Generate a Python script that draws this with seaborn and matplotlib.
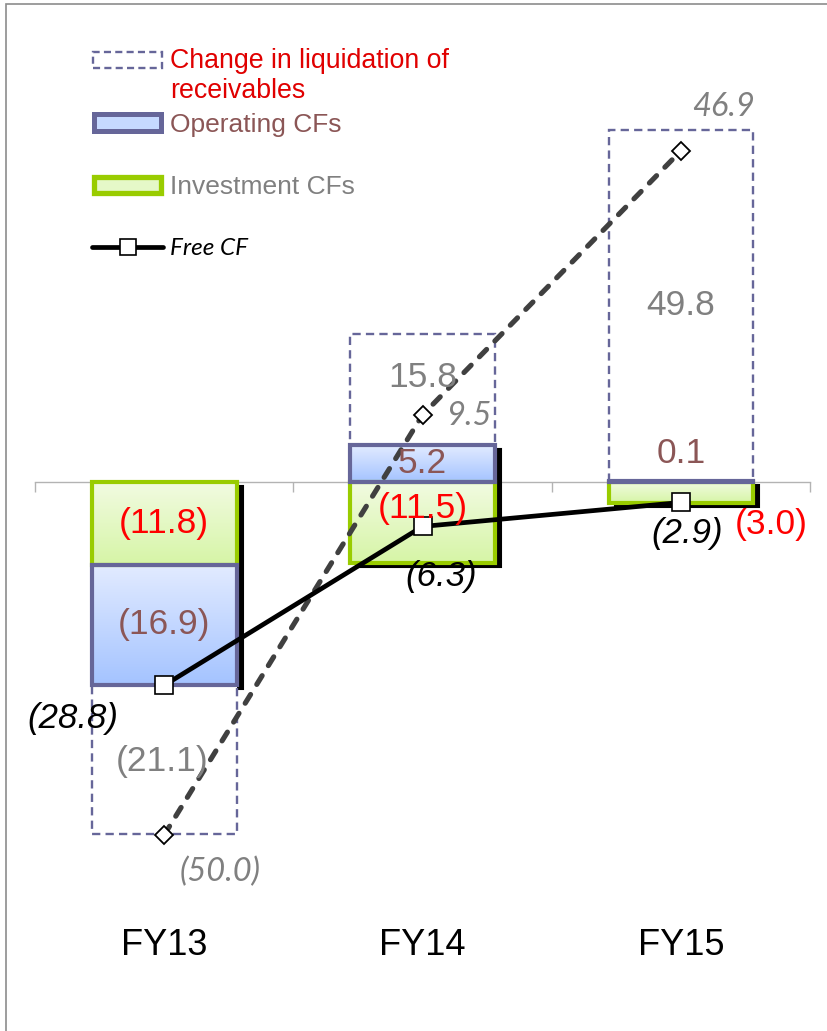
import numpy as np
import matplotlib
matplotlib.use("Agg")
import matplotlib.pyplot as plt
import matplotlib.transforms as mtransforms
from matplotlib.patches import Rectangle
from matplotlib.lines import Line2D
from matplotlib.colors import LinearSegmentedColormap
import seaborn as sns

# ---- data (JPY bn) ----
years = ["FY13", "FY14", "FY15"]
investment_cf = [-11.8, -11.5, -3.0]
operating_cf = [-16.9, 5.2, 0.1]
receivables_change = [-21.1, 15.8, 49.8]
free_cf = [-28.8, -6.3, -2.9]
free_cf_incl_receivables = [-50.0, 9.5, 46.9]

legend_labels = ["Change in liquidation of\nreceivables", "Operating CFs",
                 "Investment CFs", "Free CF"]

# ---- styling ----
W, H, DPI = 827, 1031, 100
C_INV_EDGE = "#99cc00"
C_OP_EDGE = "#666699"
C_RCV_EDGE = "#666699"
C_OP_TXT = "#8b5656"
C_INV_TXT = "#ff0000"
C_RCV_TXT = "#808080"
C_LEG_RED = "#e00000"
OP_GRAD = ("#e2ebff", "#a4c3ff")    # top, bottom
INV_GRAD = ("#f2fbe2", "#d6f5a6")

sns.set_theme(style="white")
plt.rcParams["font.family"] = ["Liberation Sans", "DejaVu Sans"]

fig = plt.figure(figsize=(W / DPI, H / DPI), dpi=DPI, facecolor="white")

# plot area in pixels
px_left, px_right, px_top, px_bottom = 35, 810, 40, 920
ax = fig.add_axes([px_left / W, 1 - px_bottom / H,
                   (px_right - px_left) / W, (px_bottom - px_top) / H])
ax.set_facecolor("white")

pos = np.arange(len(years))
bar_w = 0.56

# stack: investment nearest zero, then operating, then receivables
layers = np.array([investment_cf, operating_cf, receivables_change])
pos_base = np.zeros(len(years))
neg_base = np.zeros(len(years))
bottoms = []
for row in layers:
    bottoms.append(np.where(row >= 0, pos_base, neg_base))
    pos_base = pos_base + np.where(row >= 0, row, 0)
    neg_base = neg_base + np.where(row < 0, row, 0)
    if len(bottoms) == 2:
        shadow_top, shadow_bottom = pos_base.copy(), neg_base.copy()

# drop shadow behind operating + investment columns
shadow_tr = ax.transData + mtransforms.ScaledTranslation(6 / DPI, -4 / DPI, fig.dpi_scale_trans)
ax.bar(pos, shadow_top - shadow_bottom, bar_w, bottom=shadow_bottom,
       color="black", edgecolor="black", linewidth=1.5,
       transform=shadow_tr, zorder=2.5)


def gradient_fill(bars, top_c, bot_c, z):
    cmap = LinearSegmentedColormap.from_list("grad", [bot_c, top_c])
    grad = np.linspace(0, 1, 256).reshape(-1, 1)
    for p in bars.patches:
        x0, y0, w, h = p.get_x(), p.get_y(), p.get_width(), p.get_height()
        lo, hi = min(y0, y0 + h), max(y0, y0 + h)
        ax.imshow(grad, cmap=cmap, origin="lower", extent=(x0, x0 + w, lo, hi),
                  aspect="auto", interpolation="bilinear", zorder=z)


# receivables (white box with dashed outline)
ax.bar(pos, receivables_change, bar_w, bottom=bottoms[2], facecolor="white",
       edgecolor=C_RCV_EDGE, linewidth=1.7, linestyle=(0, (3.5, 2.2)), zorder=2.7)

# investment CFs
inv_bars = ax.bar(pos, investment_cf, bar_w, bottom=bottoms[0], facecolor="none",
                  edgecolor=C_INV_EDGE, linewidth=3.0, zorder=4)
gradient_fill(inv_bars, INV_GRAD[0], INV_GRAD[1], 3)

# operating CFs
op_bars = ax.bar(pos, operating_cf, bar_w, bottom=bottoms[1], facecolor="none",
                 edgecolor=C_OP_EDGE, linewidth=3.0, zorder=4.2)
gradient_fill(op_bars, OP_GRAD[0], OP_GRAD[1], 3.1)

# free CF including change in receivables (dashed) and free CF (solid)
sns.lineplot(x=pos, y=free_cf_incl_receivables, ax=ax, color="#404040", linewidth=3.7,
             linestyle=(0, (2.0, 2.3)), dash_capstyle="round",
             marker="D", markersize=9, markerfacecolor="white",
             markeredgecolor="black", markeredgewidth=1.3, zorder=6)
sns.lineplot(x=pos, y=free_cf, ax=ax, color="black", linewidth=3.4,
             marker="s", markersize=12.5, markerfacecolor="white",
             markeredgecolor="black", markeredgewidth=1.2, zorder=7)


def fmt(v):
    return f"({abs(v):.1f})" if v < 0 else f"{v:.1f}"


# label offsets in pixels (dx, dy; dy positive = up)
inv_off = [(0, 0), (0, 14), (90, -32)]
op_off = [(0, 0), (0, 0), (0, 28)]
rcv_off = [(-2, -2), (0, 12), (0, 0)]
fcf_off = [(-91, -33), (19, -50), (6, -31)]
adj_off = [(56, -37), (46, -1), (43, 44)]

for i in range(len(years)):
    ax.annotate(fmt(investment_cf[i]), (pos[i], bottoms[0][i] + investment_cf[i] / 2),
                xytext=inv_off[i], textcoords="offset pixels", ha="center", va="center",
                fontsize=25.5, color=C_INV_TXT, zorder=9)
    ax.annotate(fmt(operating_cf[i]), (pos[i], bottoms[1][i] + operating_cf[i] / 2),
                xytext=op_off[i], textcoords="offset pixels", ha="center", va="center",
                fontsize=25.5, color=C_OP_TXT, zorder=9)
    ax.annotate(fmt(receivables_change[i]), (pos[i], bottoms[2][i] + receivables_change[i] / 2),
                xytext=rcv_off[i], textcoords="offset pixels", ha="center", va="center",
                fontsize=25.5, color=C_RCV_TXT, zorder=9)
    ax.annotate(fmt(free_cf[i]), (pos[i], free_cf[i]),
                xytext=fcf_off[i], textcoords="offset pixels", ha="center", va="center",
                fontsize=25, fontstyle="italic", color="black", zorder=9)
    ax.annotate(fmt(free_cf_incl_receivables[i]), (pos[i], free_cf_incl_receivables[i]),
                xytext=adj_off[i], textcoords="offset pixels", ha="center", va="center",
                fontsize=23.5, fontstyle="italic", family=["Lato", "DejaVu Sans"],
                color=C_RCV_TXT, zorder=9)

# axis scaling: zero at y=482 px, 7.06 px per unit
zero_px, ppu = 482, 7.06
ymax = (zero_px - px_top) / ppu
ymin = -(px_bottom - zero_px) / ppu
ax.set_xlim(-0.5, len(years) - 0.5)
ax.set_ylim(ymin, ymax)

for s in ax.spines.values():
    s.set_visible(False)
ax.set_yticks([])
ax.set_xticks(pos, years)
ax.tick_params(axis="x", length=0, pad=6, labelsize=26, labelcolor="black")

# category axis line at zero with boundary ticks
zero_frac = (0 - ymin) / (ymax - ymin)
sec = ax.secondary_xaxis(zero_frac)
sec.set_alignment("bottom")
sec.set_xticks(np.arange(len(years) + 1) - 0.5, [""] * (len(years) + 1))
sec.tick_params(axis="x", which="major", bottom=True, top=False, direction="out",
                length=7.5, width=1.0, color="#b3b3b3", labelbottom=False)
sec.spines["bottom"].set_color("#b3b3b3")
sec.spines["bottom"].set_linewidth(1.0)
sec.spines["top"].set_visible(False)

# ---- legend ----
def fx(px):
    return px / W


def fy(py):
    return 1 - py / H


ft = fig.transFigure
fig.add_artist(Rectangle((fx(93), fy(68)), fx(162) - fx(93), fy(52) - fy(68), transform=ft,
                         facecolor="none", edgecolor=C_RCV_EDGE, linewidth=1.7,
                         linestyle=(0, (3.0, 1.8))))
fig.text(fx(170), fy(68), legend_labels[0].split("\n")[0], color=C_LEG_RED, fontsize=19.3,
         ha="left", va="baseline")
fig.text(fx(170), fy(98), legend_labels[0].split("\n")[1], color=C_LEG_RED, fontsize=19.3,
         ha="left", va="baseline")

fig.add_artist(Rectangle((fx(94), fy(131)), fx(161) - fx(94), fy(114) - fy(131), transform=ft,
                         facecolor="#c6d9ff", edgecolor=C_OP_EDGE, linewidth=3.6))
fig.text(fx(170), fy(132), legend_labels[1], color=C_OP_TXT, fontsize=19,
         ha="left", va="baseline")

fig.add_artist(Rectangle((fx(94), fy(193)), fx(161) - fx(94), fy(177) - fy(193), transform=ft,
                         facecolor="#e5f8c8", edgecolor=C_INV_EDGE, linewidth=3.8))
fig.text(fx(170), fy(194), legend_labels[2], color=C_RCV_TXT, fontsize=19,
         ha="left", va="baseline")

fig.add_artist(Line2D([fx(92), fx(163)], [fy(247), fy(247)], transform=ft, color="black",
                      linewidth=3.4))
fig.add_artist(Line2D([fx(128)], [fy(247)], transform=ft, color="black", marker="s",
                      markersize=12, markerfacecolor="white", markeredgecolor="black",
                      markeredgewidth=1.2))
fig.text(fx(170), fy(255), legend_labels[3], color="black", fontsize=17.5, fontstyle="italic",
         family=["Lato", "DejaVu Sans"], ha="left", va="baseline")

# outer frame (top and left edges visible)
fig.add_artist(Rectangle((fx(6), -0.5), 2.0, fy(4) + 0.5, transform=ft, facecolor="none",
                         edgecolor="#8c8c8c", linewidth=1.2))

fig.savefig("out.png", dpi=DPI, facecolor="white")
